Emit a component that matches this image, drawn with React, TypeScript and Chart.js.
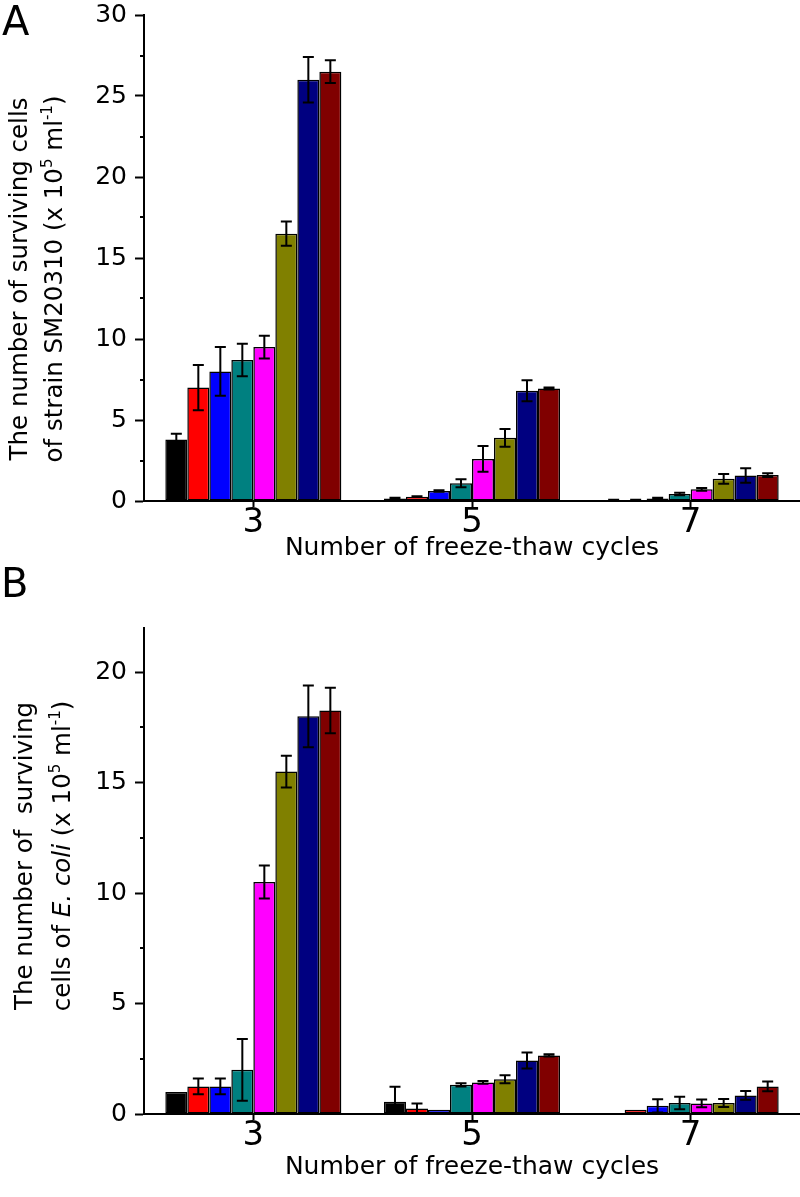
import React, { useEffect, useRef } from 'react';
import { Chart, registerables } from 'chart.js';

Chart.register(...registerables);

// ---------- data ----------
const categories = ['3', '5', '7'];
const seriesColors = ['#000000', '#FF0000', '#0000FF', '#008080', '#FF00FF', '#808000', '#000080', '#800000'];
const yTickStep = 5;

// Panel A: strain SM20310 (x 10^5 ml^-1)
const smBlack = [3.8, 0.15, 0.05];
const smRed = [7.0, 0.27, 0.06];
const smBlue = [8.0, 0.62, 0.15];
const smTeal = [8.7, 1.1, 0.43];
const smMagenta = [9.5, 2.6, 0.72];
const smOlive = [16.5, 3.9, 1.37];
const smNavy = [26.0, 6.8, 1.57];
const smDarkRed = [26.5, 6.95, 1.6];

const smBlackErr = [0.35, 0.05, 0.02];
const smRedErr = [1.4, 0.03, 0.02];
const smBlueErr = [1.5, 0.05, 0.05];
const smTealErr = [1.0, 0.25, 0.08];
const smMagentaErr = [0.7, 0.8, 0.08];
const smOliveErr = [0.75, 0.55, 0.3];
const smNavyErr = [1.4, 0.65, 0.45];
const smDarkRedErr = [0.7, 0.06, 0.12];

// Panel B: E. coli (x 10^5 ml^-1)
const ecBlack = [1.0, 0.55, 0];
const ecRed = [1.25, 0.25, 0.19];
const ecBlue = [1.25, 0.19, 0.37];
const ecTeal = [2.0, 1.32, 0.5];
const ecMagenta = [10.5, 1.43, 0.48];
const ecOlive = [15.5, 1.57, 0.5];
const ecNavy = [18.0, 2.42, 0.84];
const ecDarkRed = [18.27, 2.65, 1.25];

const ecBlackErr = [0, 0.68, 0];
const ecRedErr = [0.36, 0.22, 0];
const ecBlueErr = [0.36, 0, 0.3];
const ecTealErr = [1.4, 0.07, 0.28];
const ecMagentaErr = [0.75, 0.06, 0.18];
const ecOliveErr = [0.72, 0.18, 0.18];
const ecNavyErr = [1.4, 0.36, 0.2];
const ecDarkRedErr = [1.03, 0.05, 0.22];

const smSeries = [smBlack, smRed, smBlue, smTeal, smMagenta, smOlive, smNavy, smDarkRed];
const smErrors = [smBlackErr, smRedErr, smBlueErr, smTealErr, smMagentaErr, smOliveErr, smNavyErr, smDarkRedErr];
const ecSeries = [ecBlack, ecRed, ecBlue, ecTeal, ecMagenta, ecOlive, ecNavy, ecDarkRed];
const ecErrors = [ecBlackErr, ecRedErr, ecBlueErr, ecTealErr, ecMagentaErr, ecOliveErr, ecNavyErr, ecDarkRedErr];

const xTitle = 'Number of freeze-thaw cycles';

type Seg = { text: string; italic?: boolean; sup?: boolean };

const smTitleLine1: Seg[] = [{ text: 'The number of surviving cells' }];
const smTitleLine2: Seg[] = [
  { text: 'of strain SM20310 (x 10' }, { text: '5', sup: true }, { text: ' ml' }, { text: '-1', sup: true }, { text: ')' },
];
const ecTitleLine1: Seg[] = [{ text: 'The number of  surviving' }];
const ecTitleLine2: Seg[] = [
  { text: 'cells of ' }, { text: 'E. coli', italic: true }, { text: ' (x 10' }, { text: '5', sup: true },
  { text: ' ml' }, { text: '-1', sup: true }, { text: ')' },
];

// ---------- styling ----------
const FONT = "'DejaVu Sans', 'Liberation Sans', Arial, sans-serif";
const AXIS_LEFT = 144;
const SPLIT = 563; // page y where panel B canvas begins

type PanelCfg = {
  series: number[][];
  errors: number[][];
  yMax: number;
  padTop: number;
  xHeight: number;
  letter: string;
  letterX: number;
  letterY: number;
  line1: Seg[];
  line2: Seg[];
  line1X: number;
  line2X: number;
  titleCenterY: number;
  xTitleY: number;
};

function drawRich(ctx: CanvasRenderingContext2D, segs: Seg[], baseX: number, centerY: number, size: number) {
  const supSize = Math.round(size * 0.6);
  const fontOf = (s: Seg) => `${s.italic ? 'italic ' : ''}${s.sup ? supSize : size}px ${FONT}`;
  let total = 0;
  const widths = segs.map((s) => {
    ctx.font = fontOf(s);
    const w = ctx.measureText(s.text).width;
    total += w;
    return w;
  });
  ctx.save();
  ctx.translate(baseX, centerY);
  ctx.rotate(-Math.PI / 2);
  ctx.fillStyle = '#000';
  ctx.textBaseline = 'alphabetic';
  ctx.textAlign = 'left';
  let x = -total / 2;
  segs.forEach((s, i) => {
    ctx.font = fontOf(s);
    ctx.fillText(s.text, x, s.sup ? -size * 0.42 : 0);
    x += widths[i];
  });
  ctx.restore();
}

function buildConfig(p: PanelCfg): any {
  const errorBars = {
    id: 'errorBars',
    afterDatasetsDraw(chart: any) {
      const ctx = chart.ctx as CanvasRenderingContext2D;
      const ys = chart.scales.y;
      ctx.save();
      ctx.strokeStyle = '#000';
      ctx.lineWidth = 2;
      chart.data.datasets.forEach((ds: any, i: number) => {
        const meta = chart.getDatasetMeta(i);
        meta.data.forEach((bar: any, j: number) => {
          const v = ds.data[j];
          const e = p.errors[i][j];
          if (!e || !v) return;
          const x = bar.x;
          const yt = ys.getPixelForValue(v + e);
          const lowVal = v - e;
          const yb = ys.getPixelForValue(Math.max(0, lowVal));
          ctx.beginPath();
          ctx.moveTo(x, yt);
          ctx.lineTo(x, yb);
          ctx.moveTo(x - 5.5, yt);
          ctx.lineTo(x + 5.5, yt);
          if (lowVal > 0) {
            ctx.moveTo(x - 5.5, yb);
            ctx.lineTo(x + 5.5, yb);
          }
          ctx.stroke();
        });
      });
      ctx.restore();
    },
  };

  const minorTicks = {
    id: 'minorTicks',
    afterDraw(chart: any) {
      const ctx = chart.ctx as CanvasRenderingContext2D;
      const ys = chart.scales.y;
      const left = chart.chartArea.left;
      ctx.save();
      ctx.strokeStyle = '#000';
      ctx.lineWidth = 2;
      for (let v = yTickStep / 2; v < p.yMax; v += yTickStep) {
        const y = Math.round(ys.getPixelForValue(v));
        ctx.beginPath();
        ctx.moveTo(left - 4, y);
        ctx.lineTo(left, y);
        ctx.stroke();
      }
      ctx.restore();
    },
  };

  const texts = {
    id: 'texts',
    afterDraw(chart: any) {
      const ctx = chart.ctx as CanvasRenderingContext2D;
      const area = chart.chartArea;
      ctx.save();
      ctx.fillStyle = '#000';
      ctx.textBaseline = 'alphabetic';
      ctx.textAlign = 'left';
      ctx.font = `40px ${FONT}`;
      ctx.fillText(p.letter, p.letterX, p.letterY);
      ctx.textAlign = 'center';
      ctx.font = `25px ${FONT}`;
      ctx.fillText(xTitle, (area.left + area.right) / 2, p.xTitleY);
      ctx.restore();
      drawRich(ctx, p.line1, p.line1X, p.titleCenterY, 24.5);
      drawRich(ctx, p.line2, p.line2X, p.titleCenterY, 24.5);
    },
  };

  return {
    type: 'bar',
    data: {
      labels: categories,
      datasets: p.series.map((d, i) => ({
        data: d,
        backgroundColor: seriesColors[i],
        borderColor: '#000',
        borderWidth: 1.5,
        borderSkipped: false,
        categoryPercentage: 0.805,
        barPercentage: 1.0,
      })),
    },
    options: {
      responsive: false,
      animation: false,
      devicePixelRatio: 1,
      layout: { padding: { top: p.padTop, right: 0, bottom: 0, left: 0 } },
      plugins: {
        legend: { display: false },
        tooltip: { enabled: false },
        title: { display: false },
      },
      scales: {
        x: {
          type: 'category',
          offset: true,
          grid: {
            display: true,
            drawOnChartArea: false,
            drawTicks: true,
            offset: false,
            tickLength: 6,
            tickWidth: 2,
            tickColor: '#000',
          },
          border: { display: true, color: '#000', width: 2 },
          ticks: {
            color: '#000',
            font: { family: FONT, size: 34, lineHeight: 0.7 },
            padding: 4,
            maxRotation: 0,
            autoSkip: false,
          },
          afterFit: (s: any) => {
            s.height = p.xHeight;
            s.paddingLeft = 0;
            s.paddingRight = 0;
          },
        },
        y: {
          type: 'linear',
          min: 0,
          max: p.yMax,
          grid: {
            display: true,
            drawOnChartArea: false,
            drawTicks: true,
            tickLength: 9,
            tickWidth: 2,
            tickColor: '#000',
          },
          border: { display: true, color: '#000', width: 2 },
          ticks: {
            stepSize: yTickStep,
            includeBounds: false,
            color: '#000',
            font: { family: FONT, size: 25 },
            padding: 8,
          },
          afterFit: (s: any) => {
            s.width = AXIS_LEFT;
            s.paddingTop = 0;
            s.paddingBottom = 0;
          },
        },
      },
    },
    plugins: [errorBars, minorTicks, texts],
  };
}

const panelA: PanelCfg = {
  series: smSeries,
  errors: smErrors,
  yMax: 30,
  padTop: 15,
  xHeight: SPLIT - 501,
  letter: 'A',
  letterX: 2,
  letterY: 35,
  line1: smTitleLine1,
  line2: smTitleLine2,
  line1X: 27,
  line2X: 62,
  titleCenterY: 279,
  xTitleY: 555,
};

const panelB: PanelCfg = {
  series: ecSeries,
  errors: ecErrors,
  yMax: 22,
  padTop: 628 - SPLIT,
  xHeight: 1197 - 1114,
  letter: 'B',
  letterX: 1,
  letterY: 597 - SPLIT,
  line1: ecTitleLine1,
  line2: ecTitleLine2,
  line1X: 32,
  line2X: 70,
  titleCenterY: 856 - SPLIT,
  xTitleY: 1174 - SPLIT,
};

export default function App() {
  const refA = useRef<HTMLCanvasElement>(null);
  const refB = useRef<HTMLCanvasElement>(null);

  useEffect(() => {
    const cA = new Chart(refA.current as HTMLCanvasElement, buildConfig(panelA));
    const cB = new Chart(refB.current as HTMLCanvasElement, buildConfig(panelB));
    return () => {
      cA.destroy();
      cB.destroy();
    };
  }, []);

  return (
    <div style={{ position: 'absolute', left: 0, top: 0, width: 800, height: 1197, background: '#fff' }}>
      <canvas
        ref={refA}
        width={800}
        height={SPLIT}
        style={{ position: 'absolute', left: 0, top: 0, width: 800, height: SPLIT }}
      />
      <canvas
        ref={refB}
        width={800}
        height={1197 - SPLIT}
        style={{ position: 'absolute', left: 0, top: SPLIT, width: 800, height: 1197 - SPLIT }}
      />
    </div>
  );
}
